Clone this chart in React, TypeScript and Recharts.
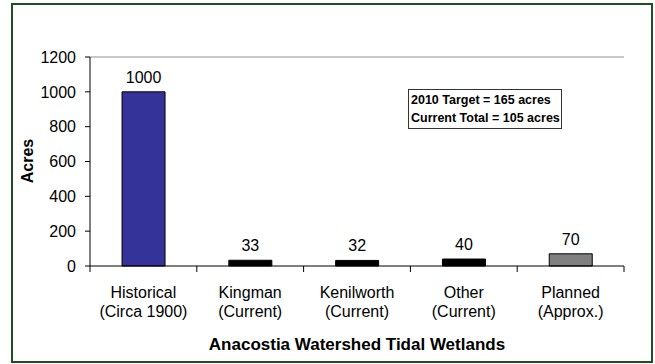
import { BarChart, Bar, XAxis, YAxis, Cell, LabelList, Label, ReferenceLine } from "recharts"

const namesTop = ["Historical", "Kingman", "Kenilworth", "Other", "Planned"]
const namesBottom = ["(Circa 1900)", "(Current)", "(Current)", "(Current)", "(Approx.)"]
const acres = [1000, 33, 32, 40, 70]
const barColors = ["#333399", "#000000", "#000000", "#000000", "#808080"]
const yTicks = [0, 200, 400, 600, 800, 1000, 1200]
const noteLines = ["2010 Target = 165 acres", "Current Total = 105 acres"]

const data = namesTop.map((name, i) => ({
  name,
  sub: namesBottom[i],
  acres: acres[i]
}))

const FONT = "'Liberation Sans', Arial, sans-serif"

function CategoryTick(props: any) {
  const { x, y, payload, index } = props
  const half = payload.offset || 0
  const last = index === data.length - 1
  return (
    <g>
      <line x1={x - half} x2={x - half} y1={y} y2={y + 6} stroke="#000" />
      {last && <line x1={x + half} x2={x + half} y1={y} y2={y + 6} stroke="#000" />}
      <text x={x} y={y + 32} textAnchor="middle" fontSize={16} fontFamily={FONT} fill="#000">
        {data[index].name}
      </text>
      <text x={x} y={y + 51} textAnchor="middle" fontSize={16} fontFamily={FONT} fill="#000">
        {data[index].sub}
      </text>
    </g>
  )
}

export default function App() {
  return (
    <div style={{ position: "absolute", left: 0, top: 0, width: 655, height: 364, background: "#fff" }}>
      <div
        style={{
          position: "absolute",
          left: 11,
          top: 3,
          width: 642,
          height: 360,
          boxSizing: "border-box",
          border: "2px solid #1f4e1f"
        }}
      />
      <BarChart
        width={655}
        height={364}
        data={data}
        margin={{ top: 57, right: 31, left: 0, bottom: 0 }}
        barCategoryGap="30%"
        style={{ position: "absolute", left: 0, top: 0 }}
      >
        <YAxis yAxisId="right" orientation="right" width={0} type="number" domain={[0, 1200]} tick={false} tickLine={false} axisLine={{ stroke: "#333333" }} />
        <XAxis
          dataKey="name"
          height={98}
          interval={0}
          tickSize={0}
          tickMargin={0}
          tickLine={false}
          axisLine={{ stroke: "#000" }}
          tick={<CategoryTick />}
        >
          <Label
            content={() => (
              <text x={357} y={350} textAnchor="middle" fontSize={17} fontWeight="bold" fontFamily={FONT} fill="#000">
                Anacostia Watershed Tidal Wetlands
              </text>
            )}
          />
        </XAxis>
        <YAxis
          width={90}
          domain={[0, 1200]}
          ticks={yTicks}
          interval={0}
          tickSize={5}
          tickMargin={9}
          tickLine={{ stroke: "#000" }}
          axisLine={{ stroke: "#000" }}
          tick={{ fontSize: 16, fill: "#000", fontFamily: FONT }}
        >
          <Label
            content={() => (
              <text
                x={33}
                y={161}
                transform="rotate(-90 33 161)"
                textAnchor="middle"
                fontSize={16}
                fontWeight="bold"
                fontFamily={FONT}
                fill="#000"
              >
                Acres
              </text>
            )}
          />
        </YAxis>
        <ReferenceLine y={1200} stroke="#909090" strokeWidth={1} />
        <Bar dataKey="acres" stroke="#000" strokeWidth={1} isAnimationActive={false}>
          {data.map((d, i) => (
            <Cell key={d.name} fill={barColors[i]} />
          ))}
          <LabelList dataKey="acres" position="top" offset={9} fontSize={16} fill="#000" fontFamily={FONT} />
        </Bar>
      </BarChart>
      <svg width={655} height={364} style={{ position: "absolute", left: 0, top: 0, pointerEvents: "none" }}>
        <rect x={408.5} y={89.5} width={153} height={39} fill="#fff" stroke="#333" />
        {noteLines.map((t, i) => (
          <text key={t} x={411} y={104 + i * 18} fontSize={12.5} fontWeight="bold" fontFamily={FONT} fill="#000">
            {t}
          </text>
        ))}
      </svg>
    </div>
  )
}
